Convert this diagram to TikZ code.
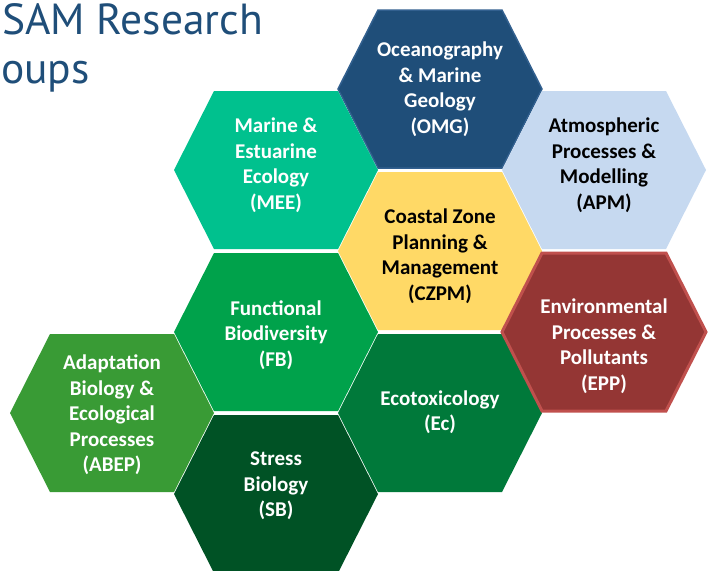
\documentclass[tikz,border=0pt]{standalone}
\usepackage{fontspec}
\setmainfont{Carlito}
\newfontfamily\titlefont{PT Sans}

\definecolor{titleblue}{HTML}{1F4E79}
\definecolor{omgblue}{HTML}{1F4E79}
\definecolor{omgedge}{HTML}{32608F}
\definecolor{meegreen}{HTML}{00C18E}
\definecolor{apmblue}{HTML}{C6D9F0}
\definecolor{czpmyellow}{HTML}{FFD966}
\definecolor{fbgreen}{HTML}{00A24B}
\definecolor{eppred}{HTML}{943634}
\definecolor{eppedge}{HTML}{C0504D}
\definecolor{abepgreen}{HTML}{399B35}
\definecolor{ecgreen}{HTML}{00793A}
\definecolor{sbgreen}{HTML}{005225}

\begin{document}
\begin{tikzpicture}[x=1pt,y=-1pt,
        heading/.style={anchor=base west,inner sep=0pt,text=titleblue,
            font=\titlefont\fontsize{43.5}{50}\selectfont},
        cellname/.style={align=center,inner sep=0pt,
            font=\bfseries\fontsize{21}{25.5}\selectfont},
        omgcell/.style={fill=omgblue,draw=omgedge,line width=1.5pt},
        meecell/.style={fill=meegreen},
        apmcell/.style={fill=apmblue},
        czpmcell/.style={fill=czpmyellow},
        fbcell/.style={fill=fbgreen},
        eppcell/.style={fill=eppred,draw=eppedge,line width=3pt},
        abepcell/.style={fill=abepgreen},
        eccell/.style={fill=ecgreen},
        sbcell/.style={fill=sbgreen}]

    \useasboundingbox (0,0) rectangle (711,570);

    \node[heading] (title1) at (2,34) {SAM Research};
    \node[heading] (title2) at (1,83) {oups};

    % one hexagon per group: name/x/y/text y/style/text colour/text
    \foreach \name/\x/\y/\ty/\sty/\tc/\txt in {
            OMG/440/89/89/omgcell/white/{Oceanography\\\& Marine\\Geology\\(OMG)},
            MEE/276/170/165/meecell/white/{Marine \&\\Estuarine\\Ecology\\(MEE)},
            APM/604/170/165/apmcell/black/{Atmospheric\\Processes \&\\Modelling\\(APM)},
            CZPM/440/251/256/czpmcell/black/{Coastal Zone\\Planning \&\\Management\\(CZPM)},
            FB/276/332/335/fbcell/white/{Functional\\Biodiversity\\(FB)},
            ABEP/112/413/415/abepcell/white/{Adaptation\\Biology \&\\Ecological\\Processes\\(ABEP)},
            Ec/440/413/412/eccell/white/{Ecotoxicology\\(Ec)},
            SB/276/494/486/sbcell/white/{Stress\\Biology\\(SB)},
            EPP/604/332/346/eppcell/white/{Environmental\\Processes \&\\Pollutants\\(EPP)}}{
        \path[\sty,shift={(\x,\y)}] (-102,0) -- (-62,-79) -- (62,-79)
            -- (102,0) -- (62,79) -- (-62,79) -- cycle;
        \node[cellname,text=\tc] (\name) at (\x,\ty) {\txt};
    }
\end{tikzpicture}
\end{document}
